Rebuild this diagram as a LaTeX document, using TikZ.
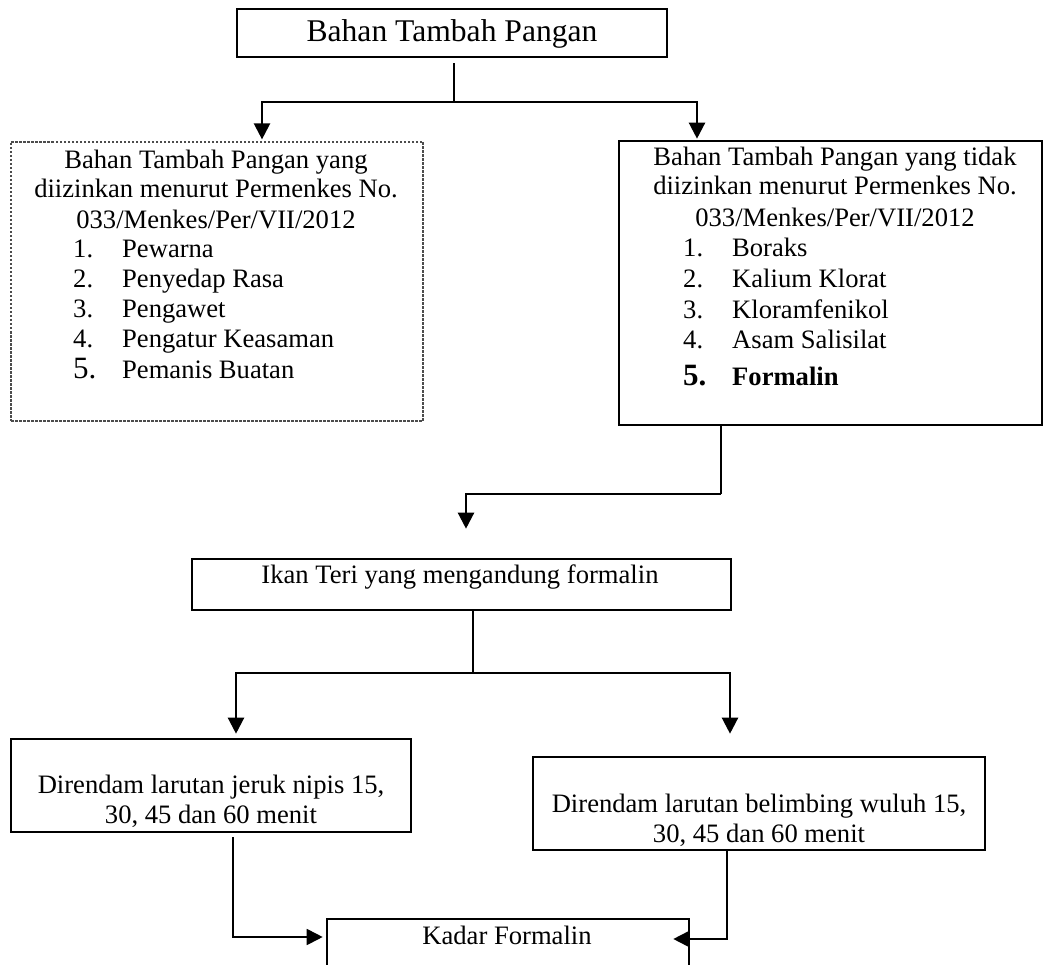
\documentclass[tikz,border=0pt]{standalone}
\usepackage{fontspec}
\setmainfont{Liberation Serif}
\usetikzlibrary{arrows.meta}
\newcommand{\numitem}[2]{\makebox[49pt][l]{#1}#2}
\tikzset{
 box/.style={draw, line width=2.6pt, inner sep=0pt},
 dotbox/.style={draw=black!70, line width=1.2pt, dash pattern=on 2.5pt off 1.5pt, inner sep=0pt},
 conn/.style={line width=2.3pt},
 arr/.style={line width=2.3pt, -{Triangle[width=16pt,length=16pt]}},
 txt/.style={anchor=base, inner sep=0pt, font=\fontsize{26.6}{30}\selectfont},
 itemtxt/.style={anchor=base west, inner sep=0pt, font=\fontsize{26.6}{30}\selectfont},
}
\begin{document}
\begin{tikzpicture}[x=1pt,y=-1pt]
\useasboundingbox (0,0) rectangle (1044,965);
% boxes
\node[box, minimum width=430pt, minimum height=48pt] (top) at (452,33) {};
\node[dotbox, minimum width=412pt, minimum height=279pt] (allowed) at (217,281.5) {};
\node[box, minimum width=423pt, minimum height=284pt] (forbidden) at (830.5,283) {};
\node[box, minimum width=539pt, minimum height=51pt] (ikan) at (461.5,584.5) {};
\node[box, minimum width=400pt, minimum height=93pt] (jeruk) at (211,785.5) {};
\node[box, minimum width=452pt, minimum height=93pt] (belimbing) at (759,803.5) {};
\node[box, minimum width=362pt, minimum height=56pt] (kadar) at (508,947) {};
% texts
\node[txt, font=\fontsize{31.6}{36}\selectfont] (ttop) at (452,42) {Bahan Tambah Pangan};
\node[txt] (a1) at (216,169) {Bahan Tambah Pangan yang};
\node[txt] (a2) at (216,198) {diizinkan menurut Permenkes No.};
\node[txt] (a3) at (216,229) {033/Menkes/Per/VII/2012};
\node[itemtxt] (ai1) at (73,258) {\numitem{1.}{Pewarna}};
\node[itemtxt] (ai2) at (73,288) {\numitem{2.}{Penyedap Rasa}};
\node[itemtxt] (ai3) at (73,318) {\numitem{3.}{Pengawet}};
\node[itemtxt] (ai4) at (73,348) {\numitem{4.}{Pengatur Keasaman}};
\node[itemtxt] (ai5) at (73,378) {\numitem{{\fontsize{31}{30}\selectfont 5.}}{Pemanis Buatan}};
\node[txt] (b1) at (835,166) {Bahan Tambah Pangan yang tidak};
\node[txt] (b2) at (835,195) {diizinkan menurut Permenkes No.};
\node[txt] (b3) at (835,227) {033/Menkes/Per/VII/2012};
\node[itemtxt] (bi1) at (683,257) {\numitem{1.}{Boraks}};
\node[itemtxt] (bi2) at (683,288) {\numitem{2.}{Kalium Klorat}};
\node[itemtxt] (bi3) at (683,319) {\numitem{3.}{Kloramfenikol}};
\node[itemtxt] (bi4) at (683,349) {\numitem{4.}{Asam Salisilat}};
\node[itemtxt] (bi5) at (683,385) {\bfseries\numitem{{\fontsize{31}{30}\selectfont 5.}}{Formalin}};
\node[txt] (tikan) at (460,583) {Ikan Teri yang mengandung formalin};
\node[txt] (tj1) at (211,793) {Direndam larutan jeruk nipis 15,};
\node[txt] (tj2) at (211,823) {30, 45 dan 60 menit};
\node[txt] (tb1) at (759,812) {Direndam larutan belimbing wuluh 15,};
\node[txt] (tb2) at (759,842) {30, 45 dan 60 menit};
\node[txt] (tk) at (507,944) {Kadar Formalin};
% connectors
\coordinate (j1) at (454,102);
\coordinate (jl) at (262,102);
\coordinate (jr) at (697,102);
\draw[conn, shorten <=5pt] (j1 |- top.south) -- (j1);
\draw[arr, shorten >=2pt] (j1) -- (jl) -- (jl |- allowed.north);
\draw[arr, shorten >=1pt] (j1) -- (jr) -- (jr |- forbidden.north);
\coordinate (k1) at (721,494);
\coordinate (k2) at (466,494);
\draw[conn] (k1 |- forbidden.south) -- (k1);
\draw[arr, shorten >=29pt] (k1) -- (k2) -- (k2 |- ikan.north);
\coordinate (m1) at (473,673);
\coordinate (ml) at (236,673);
\coordinate (mr) at (730,673);
\draw[conn] (m1 |- ikan.south) -- (m1);
\draw[arr, shorten >=4pt] (m1) -- (ml) -- (ml |- jeruk.north);
\draw[arr, shorten >=22pt] (m1) -- (mr) -- (mr |- belimbing.north);
\coordinate (n1) at (233,937);
\coordinate (n2) at (727,939);
\draw[arr, line width=1.8pt, shorten <=4pt, shorten >=3pt] (n1 |- jeruk.south) -- (n1) -- (n1 -| kadar.west);
\draw[arr, line width=1.8pt, shorten >=-17pt] (n2 |- belimbing.south) -- (n2) -- (n2 -| kadar.east);
\end{tikzpicture}
\end{document}
